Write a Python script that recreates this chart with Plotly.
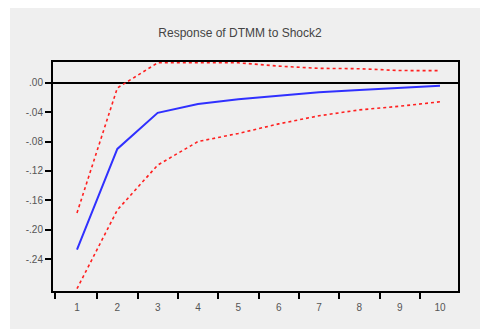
import plotly.graph_objects as go

periods = [1, 2, 3, 4, 5, 6, 7, 8, 9, 10]
response = [-0.227, -0.090, -0.041, -0.029, -0.0226, -0.0177, -0.013, -0.010, -0.0072, -0.0042]
upper_band = [-0.177, -0.0072, 0.027, 0.027, 0.027, 0.0225, 0.0195, 0.019, 0.0165, 0.0163]
lower_band = [-0.280, -0.173, -0.112, -0.080, -0.069, -0.056, -0.045, -0.037, -0.032, -0.026]
y_tick_vals = [0.0, -0.04, -0.08, -0.12, -0.16, -0.20, -0.24]
y_tick_text = [".00", "-.04", "-.08", "-.12", "-.16", "-.20", "-.24"]
x_minor_ticks = [0.45, 1.5, 2.5, 3.5, 4.5, 5.5, 6.5, 7.5, 8.5, 9.5, 10.45]

W, H = 480, 329
L, R, T, B = 53, 22, 62, 38
pw, ph = W - L - R, H - T - B

def px_x(p):
    return (p - L) / pw

def px_y(p):
    return (H - B - p) / ph

fig = go.Figure()
fig.add_trace(go.Scatter(x=periods, y=upper_band, mode="lines",
                         line=dict(color="#ff2020", width=1.6, dash="dot"), showlegend=False))
fig.add_trace(go.Scatter(x=periods, y=lower_band, mode="lines",
                         line=dict(color="#ff2020", width=1.6, dash="dot"), showlegend=False))
fig.add_trace(go.Scatter(x=periods, y=response, mode="lines",
                         line=dict(color="#3030ff", width=2), showlegend=False))

fig.add_shape(type="rect", xref="paper", yref="paper",
              x0=px_x(10), x1=px_x(480), y0=px_y(329), y1=px_y(8),
              fillcolor="#efefef", line=dict(width=0), layer="below")

fig.update_layout(
    width=W, height=H,
    margin=dict(l=L, r=R, t=T, b=B),
    paper_bgcolor="white", plot_bgcolor="white",
    font=dict(family="Liberation Sans, Arial, sans-serif", size=10, color="#555555"),
    title=dict(text="Response of DTMM to Shock2", x=0.5, xanchor="center",
               y=1 - 33 / H, yanchor="middle", yref="container",
               font=dict(size=12, color="#444444")),
)
fig.update_xaxes(range=[0.405, 10.446], tickvals=periods, ticktext=[str(p) for p in periods],
                 ticks="", showgrid=False, zeroline=False,
                 showline=True, mirror=True, linecolor="black", linewidth=2,
                 minor=dict(tickvals=x_minor_ticks, ticks="outside", ticklen=6,
                            tickcolor="black", tickwidth=2, showgrid=False),
                 ticklabelstandoff=6)
fig.update_yaxes(range=[-0.2831, 0.0281], tickvals=y_tick_vals, ticktext=y_tick_text,
                 ticks="outside", ticklen=6, tickcolor="black", tickwidth=2,
                 showgrid=False, zeroline=True, zerolinecolor="black", zerolinewidth=2,
                 showline=True, mirror=True, linecolor="black", linewidth=2)

fig.write_html("out.html")
